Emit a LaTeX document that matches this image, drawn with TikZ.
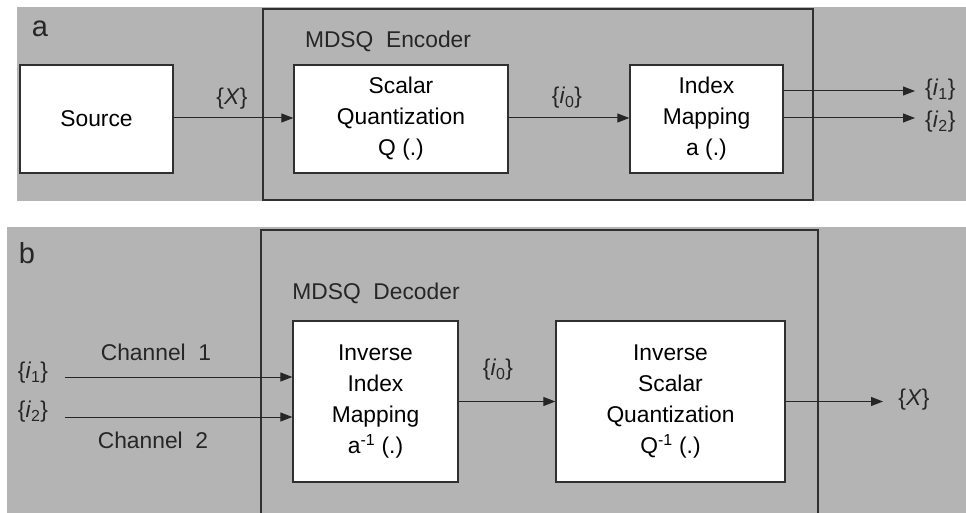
\documentclass[tikz,border=0pt]{standalone}
\usepackage{fontspec}
\setmainfont{Liberation Sans}
\usetikzlibrary{arrows.meta}
\definecolor{panelgray}{HTML}{B4B4B4}
\definecolor{linegray}{HTML}{303030}
\tikzset{
  blk/.style = {draw=linegray, fill=white, line width=1.3pt, align=center, inner sep=0pt},
  frm/.style = {draw=linegray, line width=1.1pt},
  sig/.style = {-{Triangle[length=12pt,width=9pt]}, line width=1pt, black!85},
  lbl/.style = {inner sep=0pt, text=black!85},
}
\begin{document}
\begin{tikzpicture}[x=1pt,y=-1pt]
\fontsize{22.8}{31}\selectfont
\useasboundingbox (0,0) rectangle (966,513);
\fill[white] (0,0) rectangle (966,513);
\fill[panelgray] (17,7) rectangle (966,201);
\fill[panelgray] (7,227) rectangle (966,513);
\draw[frm] (263,9) rectangle (813,200);
\draw[frm] (261,230) rectangle (818,516);
\node[lbl, anchor=base, font=\fontsize{29}{34}\selectfont] (pa) at (40,37) {a};
\node[lbl, anchor=base, font=\fontsize{29}{34}\selectfont] (pb) at (27,263) {b};
\node[lbl, anchor=base] (enc) at (388,48) {MDSQ\ \ Encoder};
\node[lbl, anchor=base] (dec) at (376,299) {MDSQ\ \ Decoder};
\node[blk, minimum width=153, minimum height=108] (src) at (96.5,119) {Source};
\node[blk, minimum width=214, minimum height=108] (sq) at (401,119) {Scalar\\Quantization\\Q (.)};
\node[blk, minimum width=153, minimum height=108] (im) at (706.5,119) {Index\\Mapping\\a (.)};
\node[blk, minimum width=165, minimum height=161] (iim) at (375.5,401.5) {Inverse\\Index\\Mapping\\a\textsuperscript{-1} (.)};
\node[blk, minimum width=229, minimum height=161] (isq) at (670.5,401.5) {Inverse\\Scalar\\Quantization\\Q\textsuperscript{-1} (.)};
\coordinate (outa) at (915,91);
\coordinate (outb) at (915,118);
\coordinate (inb) at (65,377);
\coordinate (inc) at (65,417);
\coordinate (outx) at (883,401.5);
\draw[sig] (src.east |- 0,118) -- (sq.west |- 0,118);
\draw[sig] (sq.east |- 0,118) -- (im.west |- 0,118);
\draw[sig] (im.east |- outa) -- (outa);
\draw[sig] (im.east |- outb) -- (outb);
\draw[sig] (inb) -- (inb -| iim.west);
\draw[sig] (inc) -- (inc -| iim.west);
\draw[sig] (iim.east) -- (isq.west);
\draw[sig] (isq.east) -- (outx);
\node[lbl] (xa) at (232,99) {\{\textit{X}\}};
\node[lbl] (i0a) at (567,98) {\{\textit{i}\textsubscript{0}\}};
\node[lbl, anchor=west] (i1a) at (925,90) {\{\textit{i}\textsubscript{1}\}};
\node[lbl, anchor=west] (i2a) at (925,122) {\{\textit{i}\textsubscript{2}\}};
\node[lbl] (i1b) at (33,373) {\{\textit{i}\textsubscript{1}\}};
\node[lbl] (i2b) at (33,412) {\{\textit{i}\textsubscript{2}\}};
\node[lbl, anchor=base] (ch1) at (156,360) {Channel\ \ 1};
\node[lbl, anchor=base] (ch2) at (153,448) {Channel\ \ 2};
\node[lbl] (i0b) at (498,370) {\{\textit{i}\textsubscript{0}\}};
\node[lbl] (xb) at (914,400) {\{\textit{X}\}};
\end{tikzpicture}
\end{document}
